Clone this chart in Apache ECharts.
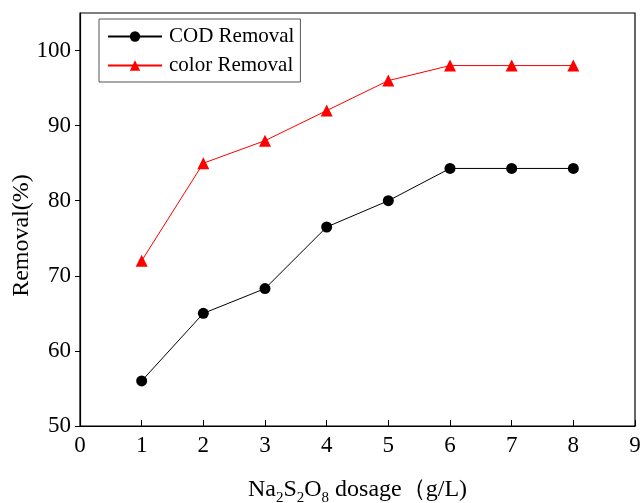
<!DOCTYPE html>
<html><head><meta charset="utf-8">
<script src="https://cdn.jsdelivr.net/npm/echarts@6/dist/echarts.min.js"></script>
<style>html,body{margin:0;padding:0;background:#fff}#c{width:643px;height:503px}</style>
</head><body><div id="c"></div>
<script>
const dosage = [1, 2, 3, 4, 5, 6, 7, 8];
const codRemoval = [56, 65, 68.3, 76.5, 80, 84.3, 84.3, 84.3];
const colorRemoval = [72, 85, 88, 92, 96, 98, 98, 98];
const yTicks = [50, 60, 70, 80, 90, 100];
const xTicks = [0, 1, 2, 3, 4, 5, 6, 7, 8, 9];
const seriesNames = ['COD Removal', 'color Removal'];

const FONT = '"Liberation Serif", "Times New Roman", serif';
const chart = echarts.init(document.getElementById('c'));
chart.setOption({
  animation: false,
  backgroundColor: '#fff',
  grid: { left: 80, right: 8, top: 13, bottom: 77, show: true, borderColor: '#000', borderWidth: 1.2, backgroundColor: 'transparent', outerBoundsMode: 'none', containLabel: false },
  legend: {
    left: 99, top: 19, orient: 'vertical',
    padding: [7, 6, 6, 8],
    itemGap: 8,
    itemWidth: 54, itemHeight: 13,
    borderColor: '#555', borderWidth: 1,
    textStyle: { fontFamily: FONT, fontSize: 21, color: '#000', padding: [0, 0, 0, 2] },
    data: seriesNames
  },
  xAxis: {
    type: 'value', min: 0, max: 9, interval: 1,
    name: 'Na{sub|2}S{sub|2}O{sub|8} dosage（g/L)',
    nameLocation: 'middle', nameGap: 47, nameMoveOverlap: false,
    nameTextStyle: {
      fontFamily: FONT, fontSize: 24, color: '#000',
      rich: { sub: { fontFamily: FONT, fontSize: 15, color: '#000', padding: [18, 0, 0, 0] } }
    },
    axisLine: { show: true, lineStyle: { color: '#000', width: 1.2 } },
    axisTick: { show: true, inside: true, length: 6, lineStyle: { color: '#000' }, customValues: xTicks },
    axisLabel: { fontFamily: FONT, fontSize: 23, color: '#000', margin: 8, customValues: xTicks },
    splitLine: { show: false }
  },
  yAxis: {
    type: 'value', min: 50, max: 105, interval: 10,
    name: 'Removal(%)', nameLocation: 'middle', nameGap: 46, nameMoveOverlap: false,
    nameTextStyle: { fontFamily: FONT, fontSize: 24, color: '#000', padding: [0, 32, 0, 0] },
    axisLine: { show: true, lineStyle: { color: '#000', width: 1.2 } },
    axisTick: { show: true, inside: false, length: 5, lineStyle: { color: '#000' }, customValues: yTicks },
    axisLabel: { fontFamily: FONT, fontSize: 23, color: '#000', margin: 9, customValues: yTicks },
    splitLine: { show: false }
  },
  series: [
    {
      name: seriesNames[0], type: 'line',
      data: dosage.map((d, i) => [d, codRemoval[i]]),
      symbol: 'circle', symbolSize: 11,
      lineStyle: { color: '#000', width: 1 },
      itemStyle: { color: '#000' }
    },
    {
      name: seriesNames[1], type: 'line',
      data: dosage.map((d, i) => [d, colorRemoval[i]]),
      symbol: 'triangle', symbolSize: 12,
      lineStyle: { color: '#ff0000', width: 1 },
      itemStyle: { color: '#ff0000' }
    }
  ]
});
</script></body></html>
